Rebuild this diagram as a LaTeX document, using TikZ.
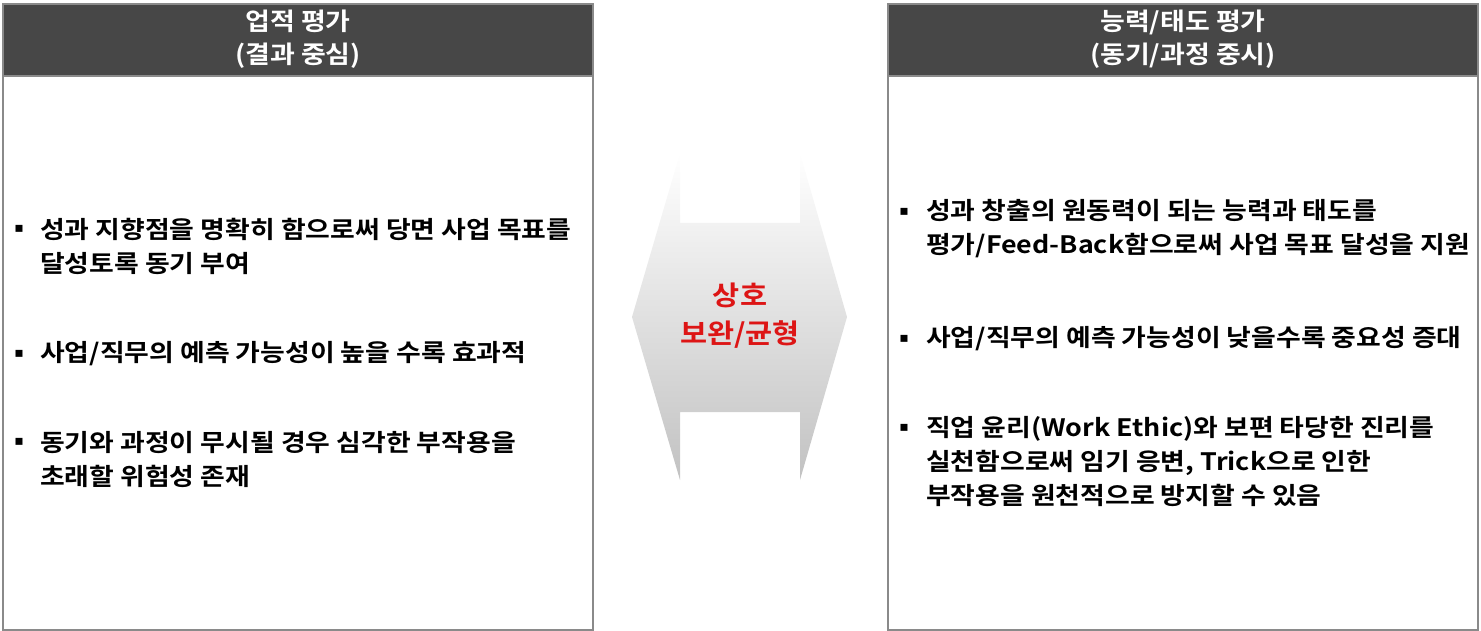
\documentclass[tikz,border=0pt]{standalone}
\usepackage{fontspec}
\setmainfont{Noto Sans CJK KR}[BoldFont={* Bold}]
\newfontfamily\bodyfont{Noto Sans CJK KR Bold}[FakeStretch=1.12]
\newfontfamily\hdrfont{Noto Sans CJK KR Bold}[FakeStretch=1.1]
\newfontfamily\midfont{Noto Sans CJK KR Bold}[FakeStretch=1.09]
\newfontfamily\symfont{DejaVu Sans}
\definecolor{hdr}{HTML}{474747}
\definecolor{bordergray}{HTML}{8A8A8A}
\definecolor{accred}{HTML}{DD1515}
\begin{document}
\begin{tikzpicture}[x=1pt,y=-1pt,
  panel/.style={draw=bordergray, line width=1.2pt},
  hdrbox/.style={fill=hdr, draw=bordergray, line width=1.2pt},
  hdrtext/.style={text=white, font=\hdrfont\fontsize{24.5}{33}\selectfont, align=center, inner sep=0pt},
  body/.style={anchor=west, font=\bodyfont\fontsize{24}{34}\selectfont, align=left, inner sep=0pt},
  bul/.style={anchor=center, font=\symfont\fontsize{14}{14}\selectfont, inner sep=0pt},
  midtext/.style={text=accred, font=\midfont\fontsize{27}{38}\selectfont, align=center, inner sep=0pt}
]
\useasboundingbox (0,0) rectangle (1481,631);

% left panel
\draw[panel] (3,4) rectangle (593,630);
\draw[hdrbox] (3,4) rectangle (593,76);
\node[hdrtext] (lh) at (298,39) {업적 평가\\(결과 중심)};

% right panel
\draw[panel] (888,4) rectangle (1478,630);
\draw[hdrbox] (888,4) rectangle (1478,76);
\node[hdrtext] (rh) at (1183,39) {능력/태도 평가\\(동기/과정 중시)};

% center double arrow
\shade[top color=white, middle color=gray!22, bottom color=gray!48]
  (680,153) -- (632,317) -- (680,480) -- (680,412) -- (800,412) -- (800,480)
  -- (847,317) -- (800,153) -- (800,223) -- (680,223) -- cycle;
\node[midtext] (mid) at (740,316) {상호\\보완/균형};

% left bullets
\node[bul] (lb1) at (19,229) {▪};
\node[body] (l1) at (40,246) {성과 지향점을 명확히 함으로써 당면 사업 목표를\\달성토록 동기 부여};
\node[bul] (lb2) at (19,354) {▪};
\node[body] (l2) at (40,354) {사업/직무의 예측 가능성이 높을 수록 효과적};
\node[bul] (lb3) at (19,442) {▪};
\node[body] (l3) at (40,459.5) {동기와 과정이 무시될 경우 심각한 부작용을\\초래할 위험성 존재};

% right bullets
\node[bul] (rb1) at (904,212) {▪};
\node[body] (r1) at (926,228.5) {성과 창출의 원동력이 되는 능력과 태도를\\평가/Feed-Back함으로써 사업 목표 달성을 지원};
\node[bul] (rb2) at (904,339) {▪};
\node[body] (r2) at (926,339) {사업/직무의 예측 가능성이 낮을수록 중요성 증대};
\node[bul] (rb3) at (904,428) {▪};
\node[body] (r3) at (926,461.5) {직업 윤리(Work Ethic)와 보편 타당한 진리를\\실천함으로써 임기 응변, Trick으로 인한\\부작용을 원천적으로 방지할 수 있음};
\end{tikzpicture}
\end{document}
